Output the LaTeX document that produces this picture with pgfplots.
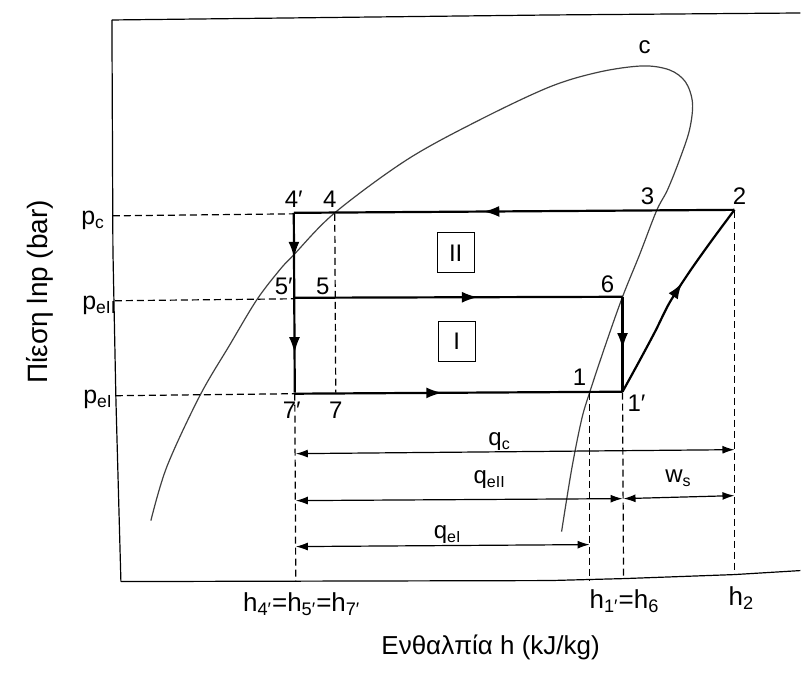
\documentclass[border=0pt]{standalone}
\usepackage{fontspec}
\setmainfont{Liberation Sans}
\usepackage{pgfplots}
\pgfplotsset{compat=1.18}
\usetikzlibrary{arrows.meta,decorations.markings}

\begin{document}
\begin{tikzpicture}[
  num/.style={font=\fontsize{12}{14}\selectfont, inner sep=0pt},
  sym/.style={font=\fontsize{12}{14}\selectfont, inner sep=0pt},
  psym/.style={font=\fontsize{12.5}{14}\selectfont, inner sep=0pt},
  hsym/.style={font=\fontsize{13}{15}\selectfont, inner sep=0pt},
  ttl/.style={font=\fontsize{13}{15}\selectfont, inner sep=0pt},
  cyc/.style={line width=1.1pt, black},
  guide/.style={line width=0.6pt, black, dash pattern=on 3.5pt off 2pt},
  dim/.style={line width=0.6pt, black, >={Latex[length=6pt,width=4pt]}, <->},
  flow/.style={postaction={decorate},
    decoration={markings, mark=at position #1 with {\arrow{Latex[length=8pt,width=5.5pt]}}}},
  flowtwo/.style 2 args={postaction={decorate},
    decoration={markings,
      mark=at position #1 with {\arrow{Latex[length=8pt,width=5.5pt]}},
      mark=at position #2 with {\arrow{Latex[length=8pt,width=5.5pt]}}}},
]
\begin{axis}[
  hide axis, scale only axis,
  width=400.5pt, height=336.5pt,
  xmin=0, xmax=801, ymin=0, ymax=673,
  y dir=reverse, clip=false,
]
% page extent
\path (axis cs:0,0) rectangle (axis cs:801,673);

% frame: left, top and bottom sides
\addplot[line width=0.6pt, black] coordinates {(112,20) (113,250) (116,400) (121,582)};
\addplot[line width=0.6pt, black] coordinates {(112,20) (550,15) (801,13)};
\addplot[line width=0.6pt, black] coordinates {(121,582) (550,581) (625,579) (735,575) (801,571)};

% saturation dome with critical point c
\addplot[line width=0.6pt, black!75, smooth, tension=0.55] coordinates {
  (151,521) (167,467) (200,396) (230,345) (257,300) (280,270) (294,255)
  (335,213) (407,160) (478,121) (550,87) (600,72) (643,66) (670,70)
  (686,82) (693,103) (690,130) (680,160) (668,190) (657,211) (640,255)
  (623,297) (606,345) (590,393) (582,420) (572,470) (562,532)};

% condenser line 2 -> 4'
\addplot[cyc, flow=0.57] coordinates {(735,210) (294,213)};
% throttling 4' -> 5' -> 7'
\addplot[cyc, flowtwo={0.25}{0.78}] coordinates {(294,213) (295,393)};
% intermediate evaporator 5' -> 6
\addplot[cyc, flow=0.56] coordinates {(294,298) (623,297)};
% throttling 6 -> 1'
\addplot[cyc, flow=0.55] coordinates {(623,297) (623,392)};
% low evaporator 7' -> 1'
\addplot[cyc, flow=0.45] coordinates {(295,394) (623,392)};
% compression 1' -> 2
\addplot[cyc, smooth, flow=0.58] coordinates {
  (623,392) (640,361) (656,331) (670,303) (690,272) (712,241) (735,210)};

% pressure levels
\addplot[guide] coordinates {(113,216) (294,214)};
\addplot[guide] coordinates {(115,301) (294,299)};
\addplot[guide] coordinates {(116,396) (295,394)};
% enthalpy levels
\addplot[guide] coordinates {(335,214) (336,393)};
\addplot[guide] coordinates {(295,394) (296,582)};
\addplot[guide] coordinates {(590,393) (590,581)};
\addplot[guide] coordinates {(623,393) (624,579)};
\addplot[guide] coordinates {(735,211) (735,575)};

% enthalpy differences
\addplot[dim] coordinates {(296,454) (735,450)};
\addplot[dim] coordinates {(296,501) (623,499)};
\addplot[dim] coordinates {(624,499) (735,496)};
\addplot[dim] coordinates {(296,547) (590,545)};

% state points
\node[num] at (axis cs:645,47) {c};
\node[num] at (axis cs:294,199) {4′};
\node[num] at (axis cs:330,199) {4};
\node[num] at (axis cs:648,196) {3};
\node[num] at (axis cs:740,196) {2};
\node[num] at (axis cs:284,287) {5′};
\node[num] at (axis cs:323,287) {5};
\node[num] at (axis cs:608,284) {6};
\node[num] at (axis cs:580,378) {1};
\node[num] at (axis cs:637,404) {1′};
\node[num] at (axis cs:292,411) {7′};
\node[num] at (axis cs:336,411) {7};

% stages
\node[num, draw, line width=0.6pt, minimum width=18.5pt, minimum height=20pt]
  at (axis cs:456,253) {II};
\node[num, draw, line width=0.6pt, minimum width=18.5pt, minimum height=20pt]
  at (axis cs:457,342) {I};

% pressure labels
\node[psym, anchor=base west] at (axis cs:81,225) {p\textsubscript{c}};
\node[psym, anchor=base west] at (axis cs:82,310) {p\textsubscript{eII}};
\node[psym, anchor=base west] at (axis cs:83,404) {p\textsubscript{eI}};

% enthalpy labels
\node[hsym, anchor=base] at (axis cs:302,612) {h\textsubscript{4′}=h\textsubscript{5′}=h\textsubscript{7′}};
\node[hsym, anchor=base] at (axis cs:625,609) {h\textsubscript{1′}=h\textsubscript{6}};
\node[hsym, anchor=base] at (axis cs:742,606) {h\textsubscript{2}};

% heat and work labels
\node[sym, anchor=base] at (axis cs:500,446) {q\textsubscript{c}};
\node[sym, anchor=base] at (axis cs:490,484) {q\textsubscript{eII}};
\node[sym, anchor=base] at (axis cs:679,483) {w\textsubscript{s}};
\node[sym, anchor=base] at (axis cs:448,539) {q\textsubscript{eI}};

% axis titles
\node[ttl] at (axis cs:491,648) {Ενθαλπία h (kJ/kg)};
\node[ttl, font=\fontsize{14}{16}\selectfont, rotate=90] at (axis cs:40,292) {Πίεση lnp (bar)};
\end{axis}
\end{tikzpicture}
\end{document}
